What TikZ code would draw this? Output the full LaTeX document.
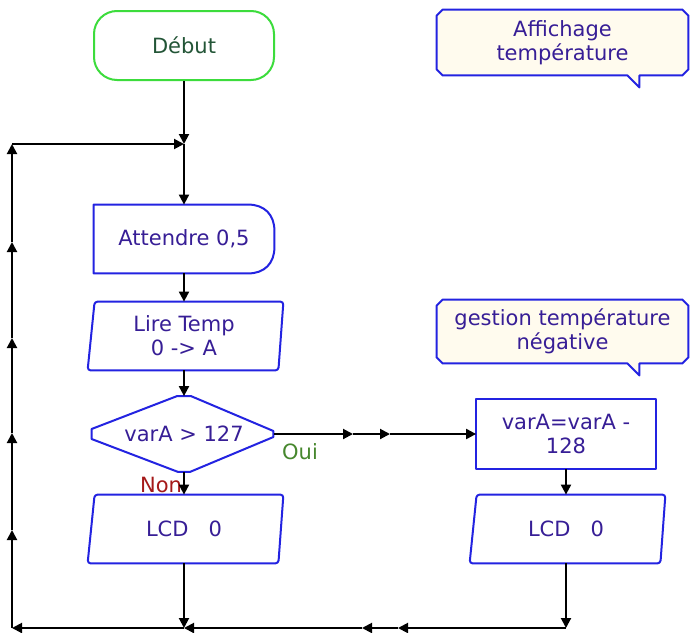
\documentclass[tikz,border=0pt]{standalone}
\usepackage{fontspec}
\setmainfont{DejaVu Sans}
\usetikzlibrary{arrows.meta,backgrounds}

\definecolor{flowtext}{RGB}{55,30,150}
\definecolor{flowblue}{RGB}{35,35,225}
\definecolor{startgreen}{RGB}{60,220,60}
\definecolor{starttext}{RGB}{35,85,55}
\definecolor{notefill}{RGB}{255,251,238}
\definecolor{ouigreen}{RGB}{70,135,45}
\definecolor{nonred}{RGB}{165,25,25}

\tikzset{
  flow/.style={line width=1pt, -{Triangle[length=5pt,width=5pt]}},
  shapeline/.style={draw=flowblue, line width=1pt, line join=round},
  boxtext/.style={text=flowtext, font=\fontsize{10.5}{12}\selectfont, align=center, inner sep=0pt},
  stepbox/.style={boxtext, minimum width=#1, minimum height=34pt},
  notebox/.style={shapeline, fill=notefill},
}

% input/output box: slanted parallelogram built on a node's anchors
\newcommand{\ioshape}[1]{%
  \draw[shapeline, rounded corners=1.5pt]
    ([xshift=3pt]#1.north west) -- ([xshift=2pt]#1.north east)
    -- ([xshift=-0.5pt]#1.south east) -- ([xshift=-0.5pt]#1.south west) -- cycle;}

% comment bubble with chamfered corners and a small tail
\newcommand{\noteshape}[1]{%
  \draw[notebox]
    ([xshift=3pt]#1.north west) -- ([xshift=-3pt]#1.north east)
    -- ([yshift=-3pt]#1.north east) -- ([yshift=3pt]#1.south east)
    -- ([xshift=-3pt]#1.south east) -- ([xshift=-24.5pt]#1.south east)
    -- ([xshift=-24.5pt,yshift=-6pt]#1.south east)
    -- ([xshift=-30.5pt]#1.south east) -- ([xshift=3pt]#1.south west)
    -- ([yshift=3pt]#1.south west) -- ([yshift=-3pt]#1.north west) -- cycle;}

\begin{document}
\begin{tikzpicture}[x=0.5pt, y=-0.5pt]
\useasboundingbox (0,0) rectangle (690,632);

% ---- steps of the main column ----
\node[boxtext, draw=startgreen, line width=1pt, rounded corners=11.5pt,
      minimum width=90pt, minimum height=34.5pt, text=starttext] (debut) at (184,45.5) {Début};
\node[stepbox=90pt] (att) at (184,239) {Attendre 0,5};
\node[stepbox=95pt] (lire) at (184,336) {Lire Temp\\0 -> A};
\node[boxtext, minimum width=90pt, minimum height=37.5pt] (dec) at (184,434) {varA > 127};
\node[stepbox=95pt] (lcdl) at (184,529) {LCD~~~0};

% ---- negative branch ----
\node[stepbox=89.5pt, minimum height=34.5pt] (vara) at (566,434) {varA=varA -\\128};
\node[stepbox=95pt] (lcdr) at (566,529) {LCD~~~0};

% ---- comments ----
\node[boxtext, minimum width=125.5pt, minimum height=32.5pt] (note1) at (562.5,42.5) {Affichage\\température};
\node[boxtext, minimum width=125.5pt, minimum height=31.5pt] (note2) at (562.5,331.5) {gestion température\\négative};

\begin{scope}[on background layer]
  \fill[white] (0,0) rectangle (690,632);
  \noteshape{note1}
  \noteshape{note2}
\end{scope}

% delay box: square on the left, rounded on the right
\draw[shapeline]
  (att.north west) -- ([xshift=-13pt]att.north east)
  .. controls ([xshift=-5pt]att.north east) and ([yshift=-5pt]att.north east) .. ([yshift=-13pt]att.north east)
  -- ([yshift=13pt]att.south east)
  .. controls ([yshift=5pt]att.south east) and ([xshift=-5pt]att.south east) .. ([xshift=-13pt]att.south east)
  -- (att.south west) -- cycle;

\ioshape{lire}
\ioshape{lcdl}
\ioshape{lcdr}

% calculation box
\draw[shapeline] (vara.north west) rectangle (vara.south east);

% decision
\draw[shapeline]
  ([xshift=-1pt,yshift=2.5pt]dec.west) -- ([xshift=-3.5pt]dec.north) -- ([xshift=3.5pt]dec.north)
  -- ([xshift=-0.5pt,yshift=1.5pt]dec.east) -- ([xshift=-0.5pt,yshift=-1.5pt]dec.east)
  -- ([xshift=3pt]dec.south) -- ([xshift=-3pt]dec.south)
  -- ([xshift=-1pt,yshift=-2.5pt]dec.west) -- cycle;

\node[boxtext, text=ouigreen] (oui) at (300,452) {Oui};
\node[boxtext, text=nonred] (non) at (161,485) {Non};

% ---- junction points of the connectors ----
\coordinate (top) at (184,144);
\coordinate (lc5) at (12,144);
\coordinate (lc4) at (12,242);
\coordinate (lc3) at (12,338);
\coordinate (lc2) at (12,433);
\coordinate (lc1) at (12,530);
\coordinate (bl) at (12,628);
\coordinate (bm) at (184,628);
\coordinate (bj1) at (362,628);
\coordinate (bj2) at (398,628);
\coordinate (br) at (566,628);
\coordinate (rj1) at (353,434);
\coordinate (rj2) at (390,434);

% ---- connectors ----
\draw[flow] (debut.south) -- (top);
\draw[flow] (top) -- (att.north);
\draw[flow] (att.south) -- (lire.north);
\draw[flow] (lire.south) -- (dec.north);
\draw[flow] (dec.south) -- (lcdl.north);
\draw[flow] (lcdl.south) -- (bm);

\draw[flow] (dec.east) -- (rj1);
\draw[flow] (rj1) -- (rj2);
\draw[flow] (rj2) -- (vara.west);
\draw[flow] (vara.south) -- (lcdr.north);
\draw[flow] (lcdr.south) -- (br);

\draw[flow] (br) -- (bj2);
\draw[flow] (bj2) -- (bj1);
\draw[flow] (bj1) -- (bm);
\draw[flow] (bm) -- (bl);
\draw[flow] (bl) -- (lc1);
\draw[flow] (lc1) -- (lc2);
\draw[flow] (lc2) -- (lc3);
\draw[flow] (lc3) -- (lc4);
\draw[flow] (lc4) -- (lc5);
\draw[flow] (lc5) -- (top);
\end{tikzpicture}
\end{document}
